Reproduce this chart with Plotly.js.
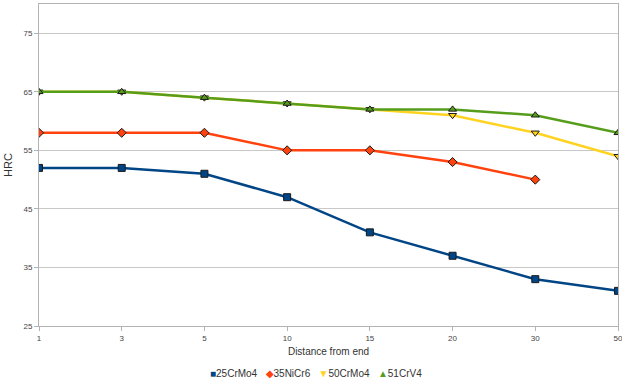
<!DOCTYPE html>
<html><head><meta charset="utf-8">
<script src="https://cdn.plot.ly/plotly-3.0.1.min.js"></script>
<style>html,body{margin:0;padding:0;background:#fff}#c{width:622px;height:381px}</style>
</head><body><div id="c"></div>
<script>
const categories = ["1","3","5","10","15","20","30","50"];
const s25CrMo4 = [52,52,51,47,41,37,33,31];
const s35NiCr6 = [58,58,58,55,55,53,50,null];
const s50CrMo4 = [65,65,64,63,62,61,58,54];
const s51CrV4  = [65,65,64,63,62,62,61,58];
const names = ["25CrMo4","35NiCr6","50CrMo4","51CrV4"];
const colors = ["#004586","#ff420e","#ffd320","#579d1c"];
const symbols = ["square","diamond","triangle-down","triangle-up"];
const glyphs = ["■","◆","▼","▲"];
const series = [s25CrMo4,s35NiCr6,s50CrMo4,s51CrV4];
const traces = series.map((v,i)=>({
  x: categories, y: v, name: names[i], type:'scatter', mode:'lines+markers',
  line:{color:colors[i], width:2.5},
  marker:{symbol:symbols[i], size:7, color:colors[i], line:{color:'#1a1a1a', width:1}}
}));
const legendText = names.map((n,i)=>'<span style="color:'+colors[i]+'">'+glyphs[i]+'</span>'+n).join('   ');
const layout = {
  width:622, height:381,
  margin:{l:39, r:4, t:4, b:55},
  paper_bgcolor:'#fff', plot_bgcolor:'#fff',
  font:{family:'Liberation Sans, Arial, sans-serif', color:'#333'},
  showlegend:false,
  annotations:[{xref:'paper', yref:'paper', x:0.479, y:-0.149, xanchor:'center', yanchor:'middle',
    text:legendText, showarrow:false, font:{size:10, color:'#333'}}],
  xaxis:{type:'category', range:[0,7], showgrid:false, showline:true, linecolor:'#b3b3b3', linewidth:1,
    mirror:true, ticks:'outside', ticklen:4, tickcolor:'#b3b3b3', tickfont:{size:8, color:'#444'},
    zeroline:false,
    title:{text:'Distance from end', font:{size:10, color:'#333'}, standoff:6}},
  yaxis:{range:[25,80], tickvals:[25,35,45,55,65,75], showgrid:true, gridcolor:'#c8c8c8', gridwidth:1,
    showline:true, linecolor:'#b3b3b3', linewidth:1, mirror:true, ticks:'outside', ticklen:4, tickcolor:'#b3b3b3',
    tickfont:{size:8, color:'#444'}, zeroline:false,
    title:{text:'HRC', font:{size:11, color:'#333'}, standoff:8}}
};
Plotly.newPlot('c', traces, layout, {displayModeBar:false, staticPlot:true});
</script></body></html>
